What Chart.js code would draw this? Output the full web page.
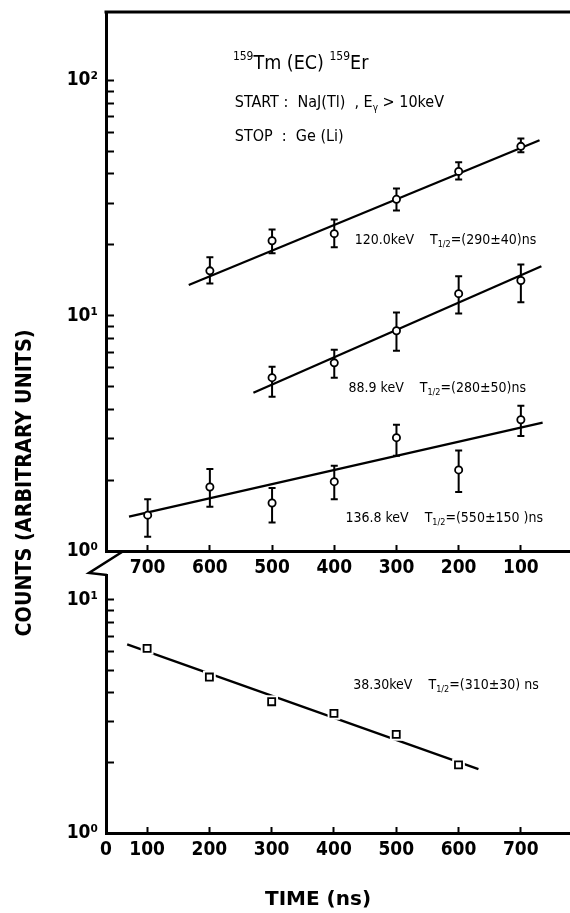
<!DOCTYPE html>
<html>
<head>
<meta charset="utf-8">
<title>159Tm (EC) 159Er</title>
<script src="https://cdn.jsdelivr.net/npm/chart.js@4.4.1/dist/chart.umd.min.js"></script>
<style>
    html, body { margin: 0; padding: 0; background: #fff; }
    #wrap { position: relative; width: 570px; height: 913px; }
    #wrap canvas { position: absolute; left: 0; top: 0; }
</style>
</head>
<body>
<div id="wrap">
    <canvas id="bottomChart" width="570" height="913"></canvas>
    <canvas id="topChart" width="570" height="913"></canvas>
</div>
<script>
// 上图 (时间轴反向, ns)
const topTimeTicks = [700, 600, 500, 400, 300, 200, 100];

// 120.0 keV
const timesA = [600, 500, 400, 300, 200, 100];
const countsA = [15.5, 20.8, 22.3, 31.2, 41.0, 52.4];
const lowA = [13.7, 18.4, 19.5, 28.0, 37.9, 49.4];
const highA = [17.7, 23.2, 25.6, 34.7, 44.8, 56.6];
const fitTimesA = [634, 70];
const fitCountsA = [13.5, 55.6];

// 88.9 keV
const timesB = [500, 400, 300, 200, 100];
const countsB = [5.45, 6.3, 8.63, 12.4, 14.1];
const lowB = [4.52, 5.45, 7.1, 10.2, 11.4];
const highB = [6.07, 7.17, 10.3, 14.7, 16.5];
const fitTimesB = [530, 67];
const fitCountsB = [4.70, 16.2];

// 136.8 keV
const timesC = [700, 600, 500, 400, 300, 200, 100];
const countsC = [1.42, 1.87, 1.60, 1.97, 3.03, 2.21, 3.61];
const lowC = [1.15, 1.54, 1.32, 1.66, 2.54, 1.78, 3.08];
const highC = [1.66, 2.23, 1.85, 2.30, 3.44, 2.67, 4.14];
const fitTimesC = [730, 65];
const fitCountsC = [1.40, 3.51];

// 下图 38.30 keV
const bottomTimeTicks = [100, 200, 300, 400, 500, 600, 700];
const bottomZeroLabel = '0';
const timesD = [100, 200, 300, 400, 500, 600];
const countsD = [6.20, 4.67, 3.66, 3.26, 2.65, 1.96];
const fitTimesD = [68, 632];
const fitCountsD = [6.45, 1.88];

// 对数轴刻度
const decadeTicks = [1, 10, 100];
const decadeLabels = ['10\u2070', '10\u00B9', '10\u00B2'];
const minorFactors = [2, 3, 4, 5, 6, 7, 8, 9];

// 文字
const titleText = [{ t: '159', sup: true }, { t: 'Tm (EC) ' }, { t: '159', sup: true }, { t: 'Er' }];
const startText = [{ t: 'START :  NaJ(Tl)  , E' }, { t: '\u03B3', sub: true }, { t: ' > 10keV' }];
const stopText = [{ t: 'STOP  :  Ge (Li)' }];
const halfLife = (energy, value) => [{ t: energy + '    T' }, { t: '1/2', sub: true }, { t: '=' + value }];
const labelA = halfLife('120.0keV', '(290\u00B140)ns');
const labelB = halfLife('88.9 keV', '(280\u00B150)ns');
const labelC = halfLife('136.8 keV', '(550\u00B1150 )ns');
const labelD = halfLife('38.30keV', '(310\u00B130) ns');
const yTitle = 'COUNTS (ARBITRARY UNITS)';
const xTitle = 'TIME (ns)';

const FONT = '"DejaVu Sans Condensed", "DejaVu Sans", sans-serif';

const toPoints = (xs, ys) => xs.map((x, i) => ({ x: x, y: ys[i] }));

function logTicks(min, max) {
    const ticks = [];
    decadeTicks.forEach(d => {
        if (d >= min && d <= max) ticks.push({ value: d });
        minorFactors.forEach(f => {
            const v = d * f;
            if (v > min && v <= max) ticks.push({ value: v });
        });
    });
    return ticks.sort((a, b) => a.value - b.value);
}

function decadeLabel(v) {
    const i = decadeTicks.indexOf(v);
    return i >= 0 ? decadeLabels[i] : '';
}

// 带上下标的文字
function drawRich(ctx, parts, x, y, size, weight) {
    let cx = x;
    ctx.textBaseline = 'middle';
    ctx.textAlign = 'left';
    parts.forEach(p => {
        const small = p.sub || p.sup;
        const s = small ? Math.round(size * 0.64) : size;
        ctx.font = `${weight || 'normal'} ${s}px ${FONT}`;
        const dy = p.sub ? size * 0.32 : (p.sup ? -size * 0.38 : 0);
        ctx.fillText(p.t, cx, y + dy);
        cx += ctx.measureText(p.t).width;
    });
}

const errorBarPlugin = {
    id: 'errorBars',
    beforeDatasetsDraw(chart) {
        const { ctx, scales: { x, y } } = chart;
        ctx.save();
        ctx.strokeStyle = '#000';
        ctx.lineWidth = 2;
        chart.data.datasets.forEach(ds => {
            if (!ds.errLow) return;
            ds.data.forEach((p, i) => {
                const px = x.getPixelForValue(p.x);
                const y1 = y.getPixelForValue(ds.errLow[i]);
                const y2 = y.getPixelForValue(ds.errHigh[i]);
                ctx.beginPath();
                ctx.moveTo(px, y1); ctx.lineTo(px, y2);
                ctx.moveTo(px - 3.5, y1); ctx.lineTo(px + 3.5, y1);
                ctx.moveTo(px - 3.5, y2); ctx.lineTo(px + 3.5, y2);
                ctx.stroke();
            });
        });
        ctx.restore();
    }
};

const notesPlugin = {
    id: 'notes',
    afterDraw(chart, args, opts) {
        const { ctx, scales: { x, y } } = chart;
        ctx.save();
        ctx.fillStyle = '#000';
        (opts.items || []).forEach(item => {
            drawRich(ctx, item.parts, x.getPixelForValue(item.x), y.getPixelForValue(item.y), item.size, item.weight);
        });
        ctx.restore();
    }
};

// 上框线、断轴符号和轴标题
const framePlugin = {
    id: 'frame',
    afterDraw(chart) {
        const { ctx, chartArea: { left, right, top, bottom } } = chart;
        ctx.save();
        ctx.strokeStyle = '#000';
        ctx.lineWidth = 3;
        ctx.beginPath();
        ctx.moveTo(left - 1.5, top);
        ctx.lineTo(right, top);
        ctx.stroke();

        ctx.lineWidth = 2.5;
        ctx.beginPath();
        ctx.moveTo(left + 16, bottom + 1);
        ctx.lineTo(left - 17, bottom + 22);
        ctx.lineTo(left + 1, bottom + 24);
        ctx.stroke();

        ctx.fillStyle = '#000';
        ctx.font = `bold 21px ${FONT}`;
        ctx.textAlign = 'center';
        ctx.textBaseline = 'middle';
        const w = ctx.measureText(yTitle).width;
        ctx.translate(26, 483);
        ctx.rotate(-Math.PI / 2);
        ctx.scale(307 / w, 1);
        ctx.fillText(yTitle, 0, 0);
        ctx.restore();
    }
};

const xTitlePlugin = {
    id: 'xTitle',
    afterDraw(chart) {
        const { ctx } = chart;
        ctx.save();
        ctx.fillStyle = '#000';
        ctx.font = 'bold 20px "DejaVu Sans", sans-serif';
        ctx.textAlign = 'center';
        ctx.textBaseline = 'middle';
        ctx.fillText(xTitle, 318, 900);
        ctx.restore();
    }
};

function pointSet(times, counts, low, high, style) {
    return {
        data: toPoints(times, counts),
        errLow: low,
        errHigh: high,
        showLine: false,
        pointStyle: style,
        pointRadius: style === 'rect' ? 5 : 3.6,
        pointBorderWidth: 1.8,
        pointBackgroundColor: '#fff',
        pointBorderColor: '#000',
        order: 0
    };
}

// 方块周围的白边，使拟合线在数据点处断开
function haloSet(times, counts) {
    return {
        data: toPoints(times, counts),
        showLine: false,
        pointStyle: 'rect',
        pointRadius: 9,
        pointBorderWidth: 0,
        pointBackgroundColor: '#fff',
        order: 1
    };
}

function fitLine(times, counts) {
    return {
        data: toPoints(times, counts),
        showLine: true,
        borderColor: '#000',
        borderWidth: 2.3,
        pointRadius: 0,
        order: 2
    };
}

function yScale(min, max) {
    return {
        type: 'logarithmic',
        min: min,
        max: max,
        afterBuildTicks: s => { s.ticks = logTicks(min, max); },
        afterFit: s => {
            s.width = 106;
            s.paddingTop = 0;
            s.paddingBottom = 0;
        },
        ticks: {
            callback: v => decadeLabel(v),
            autoSkip: false,
            color: '#000',
            padding: 16,
            font: { family: FONT, size: 19, weight: 'bold' }
        },
        grid: { drawOnChartArea: false, tickLength: -8, tickWidth: 2, tickColor: '#000' },
        border: { width: 3, color: '#000' }
    };
}

function xScale(opts) {
    return Object.assign({
        type: 'linear',
        ticks: {
            autoSkip: false,
            maxRotation: 0,
            color: '#000',
            padding: 12,
            font: { family: FONT, size: 19, weight: 'bold' }
        },
        grid: { drawOnChartArea: false, tickLength: -6, tickWidth: 2, tickColor: '#000' },
        border: { width: 3, color: '#000' }
    }, opts);
}

const baseOptions = {
    responsive: false,
    animation: false,
    events: [],
    plugins: { legend: { display: false }, tooltip: { enabled: false } }
};

// 上图
new Chart(document.getElementById('topChart'), {
    type: 'scatter',
    data: {
        datasets: [
            pointSet(timesA, countsA, lowA, highA, 'circle'),
            fitLine(fitTimesA, fitCountsA),
            pointSet(timesB, countsB, lowB, highB, 'circle'),
            fitLine(fitTimesB, fitCountsB),
            pointSet(timesC, countsC, lowC, highC, 'circle'),
            fitLine(fitTimesC, fitCountsC)
        ]
    },
    options: Object.assign({}, baseOptions, {
        layout: { autoPadding: false, padding: { left: 0, right: 0, top: 12, bottom: 322 } },
        scales: {
            x: xScale({
                reverse: true,
                min: 21,
                max: 767,
                afterBuildTicks: s => { s.ticks = topTimeTicks.map(v => ({ value: v })); },
                afterFit: s => {
                    s.height = 40;
                    s.paddingLeft = 0;
                    s.paddingRight = 0;
                }
            }),
            y: yScale(1, 195)
        },
        plugins: Object.assign({}, baseOptions.plugins, {
            notes: {
                items: [
                    { parts: titleText, x: 563, y: 117, size: 19.5 },
                    { parts: startText, x: 560, y: 79.8, size: 16 },
                    { parts: stopText, x: 560, y: 57.3, size: 16 },
                    { parts: labelA, x: 367, y: 20.9, size: 14 },
                    { parts: labelB, x: 377, y: 4.92, size: 14 },
                    { parts: labelC, x: 382, y: 1.38, size: 14 }
                ]
            }
        })
    }),
    plugins: [errorBarPlugin, notesPlugin, framePlugin]
});

// 下图
new Chart(document.getElementById('bottomChart'), {
    type: 'scatter',
    data: {
        datasets: [
            pointSet(timesD, countsD, null, null, 'rect'),
            haloSet(timesD, countsD),
            fitLine(fitTimesD, fitCountsD)
        ]
    },
    options: Object.assign({}, baseOptions, {
        layout: { autoPadding: false, padding: { left: 0, right: 0, top: 575, bottom: 0 } },
        scales: {
            x: xScale({
                min: 34,
                max: 779,
                afterBuildTicks: s => {
                    s.ticks = [{ value: s.min }].concat(bottomTimeTicks.map(v => ({ value: v })));
                },
                afterFit: s => {
                    s.height = 80;
                    s.paddingLeft = 0;
                    s.paddingRight = 0;
                }
            }),
            y: yScale(1, 12.8)
        },
        plugins: Object.assign({}, baseOptions.plugins, {
            notes: {
                items: [
                    { parts: labelD, x: 431, y: 4.32, size: 14 }
                ]
            }
        })
    }),
    plugins: [errorBarPlugin, notesPlugin, xTitlePlugin]
});
// 下图 x 轴第一个刻度标为 0
Chart.getChart('bottomChart').options.scales.x.ticks.callback = (v, i) => i === 0 ? bottomZeroLabel : String(v);
Chart.getChart('bottomChart').update();
</script>
</body>
</html>
